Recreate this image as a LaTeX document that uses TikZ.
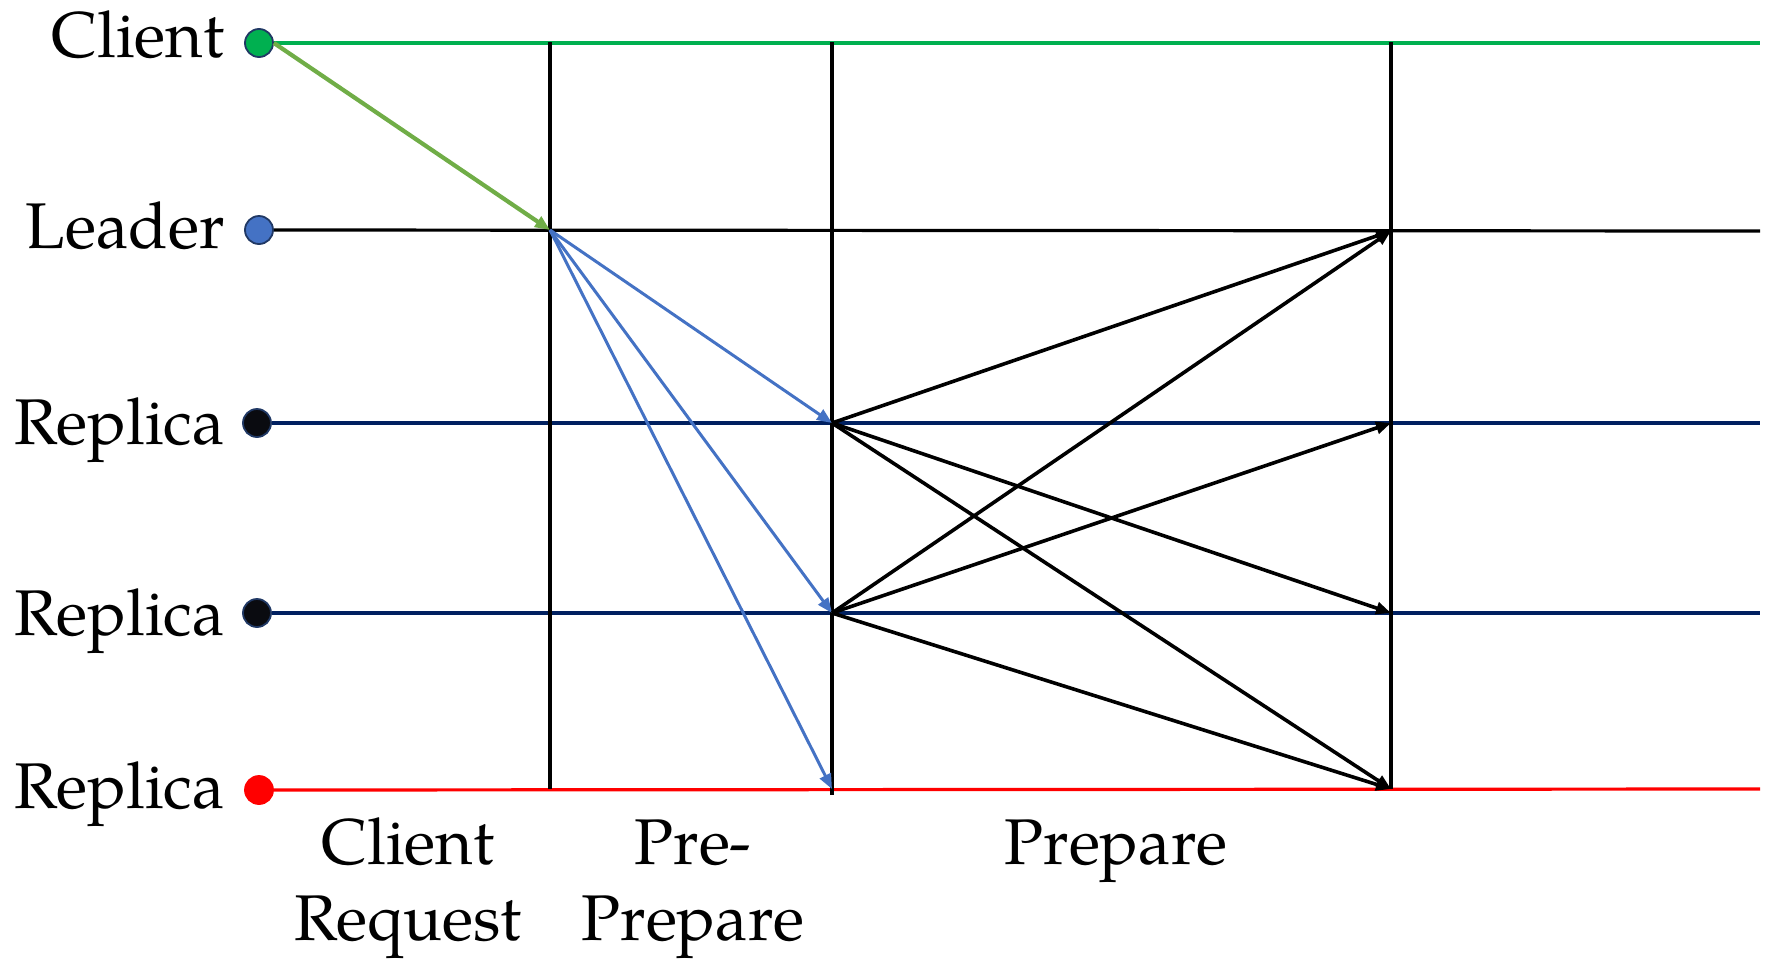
\documentclass[tikz,border=0pt]{standalone}
\usepackage{fontspec}
\setmainfont{texgyrepagella-regular.otf}
\usetikzlibrary{arrows.meta}
\definecolor{cgreen}{HTML}{00B050}
\definecolor{agreen}{HTML}{70AD47}
\definecolor{lblue}{HTML}{4472C4}
\definecolor{navy}{HTML}{002060}
\definecolor{dotline}{HTML}{203864}
\definecolor{dotblack}{HTML}{0A0B10}
\definecolor{cred}{HTML}{FF0000}
\tikzset{
  dot/.style={circle, inner sep=0pt, minimum size=14pt, draw=dotline, line width=0.9pt},
  lab/.style={anchor=base east, inner sep=0pt, font=\fontsize{32.3}{38}\selectfont},
  phase/.style={anchor=base, inner sep=0pt, font=\fontsize{32.3}{38}\selectfont},
  hline/.style={line width=1.6pt},
  vline/.style={line width=2.1pt, black},
  msg/.style={line width=1.8pt, -{Triangle[length=7.5pt,width=6pt]}},
}
\begin{document}
\begin{tikzpicture}[x=0.5pt, y=-0.5pt]
\useasboundingbox (0,0) rectangle (1768,959);
% process dots
\node[dot, fill=cgreen] (c) at (259,43) {};
\node[dot, fill=lblue] (l) at (259,230) {};
\node[dot, fill=dotblack] (r1) at (257,423) {};
\node[dot, fill=dotblack] (r2) at (257,613) {};
\node[dot, fill=cred, draw=cred] (r3) at (259,790) {};
% labels
\node[lab] (tc) at (225,57) {Client};
\node[lab] (tl) at (225,248) {Leader};
\node[lab] (tr1) at (225,444) {Replica};
\node[lab] (tr2) at (225,635) {Replica};
\node[lab] (tr3) at (225,808) {Replica};
% line ends
\coordinate (cE) at (1760,43);
\coordinate (lE) at (1760,231);
\coordinate (r1E) at (1760,423);
\coordinate (r2E) at (1760,613);
\coordinate (r3E) at (1760,789);
% vertical phase lines
\coordinate (v1t) at (550,42); \coordinate (v1b) at (550,789);
\coordinate (v2t) at (832,42); \coordinate (v2b) at (832,795);
\coordinate (v3t) at (1391,42); \coordinate (v3b) at (1391,789);
% event points
\coordinate (lA) at (550,230);
\coordinate (r1B) at (832,423);
\coordinate (r2B) at (832,613);
\coordinate (r3B) at (832,789);
\coordinate (lC) at (1391,231);
\coordinate (r1C) at (1391,423);
\coordinate (r2C) at (1391,613);
\coordinate (r3C) at (1391,789);
% horizontal lines
\draw[hline, cgreen] (c.east) -- (cE);
\draw[hline, black] (l.east) -- (lE);
\draw[hline, navy] (r1.east) -- (r1E);
\draw[hline, navy] (r2.east) -- (r2E);
\draw[hline, cred] (r3.east) -- (r3E);
\draw[vline] (v1t) -- (v1b);
\draw[vline] (v2t) -- (v2b);
\draw[vline] (v3t) -- (v3b);
% client request
\draw[msg, agreen, line width=2.1pt] (c.east) -- (lA);
% pre-prepare
\draw[msg, lblue, line width=1.5pt] (lA) -- (r1B);
\draw[msg, lblue, line width=1.5pt] (lA) -- (r2B);
\draw[msg, lblue, line width=1.5pt] (lA) -- (r3B);
% prepare
\draw[msg] (r1B) -- (lC);
\draw[msg] (r1B) -- (r2C);
\draw[msg] (r1B) -- (r3C);
\draw[msg] (r2B) -- (lC);
\draw[msg] (r2B) -- (r1C);
\draw[msg] (r2B) -- (r3C);
% phase labels
\node[phase] (p1a) at (408,864) {Client};
\node[phase] (p1b) at (408,940) {Request};
\node[phase] (p2a) at (693,864) {Pre-};
\node[phase] (p2b) at (693,940) {Prepare};
\node[phase] (p3) at (1116,864) {Prepare};
\end{tikzpicture}
\end{document}
